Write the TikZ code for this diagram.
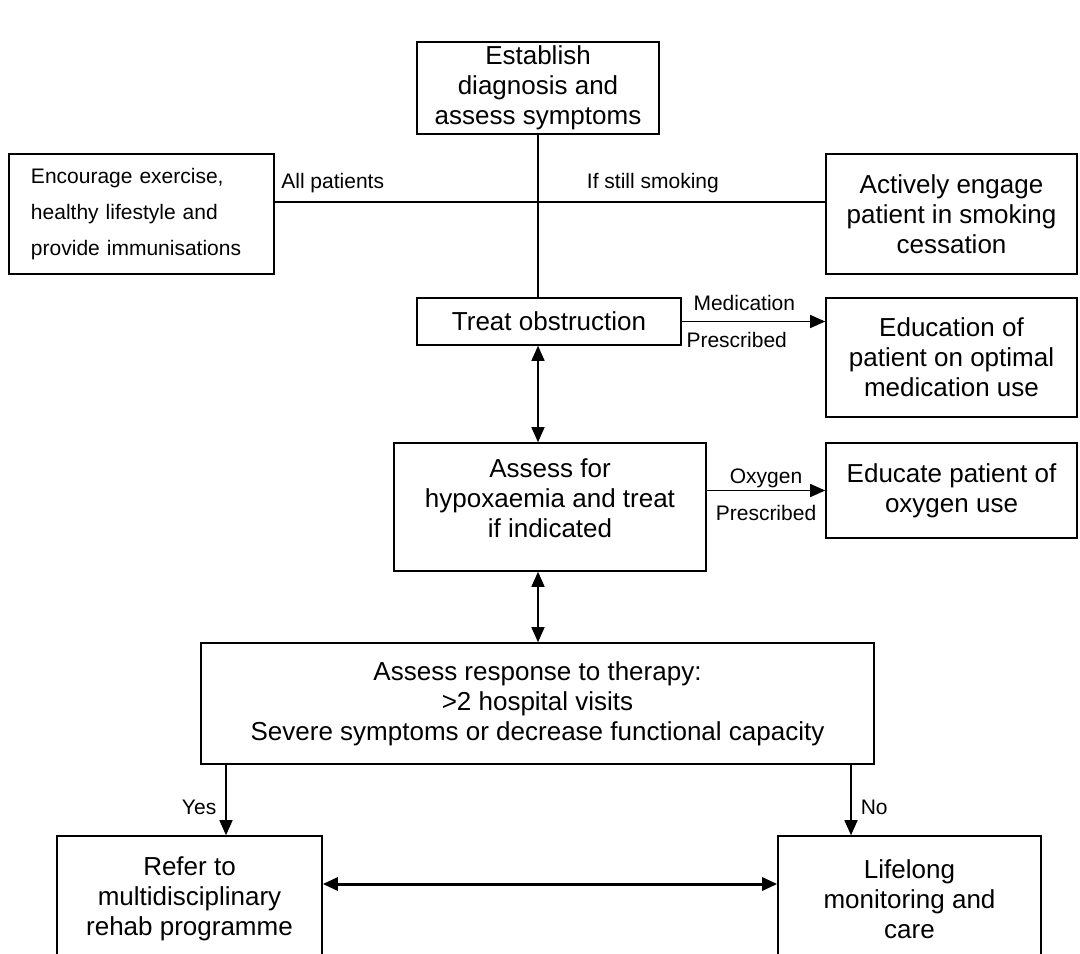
\documentclass[tikz,border=0pt]{standalone}
\usepackage{fontspec}
\setmainfont{Liberation Sans}
\usetikzlibrary{arrows.meta}
\begin{document}
\begin{tikzpicture}[x=0.5pt, y=-0.5pt,
  every node/.style = {shape=rectangle, align=center},
  box/.style = {draw, line width=0.8pt, inner sep=0pt, font=\fontsize{13}{15}\selectfont},
  smallbox/.style = {draw, line width=0.8pt, inner sep=0pt, align=left, text width=110.5pt, font=\fontsize{10.5}{18}\selectfont},
  lbl/.style = {inner sep=0pt, font=\fontsize{10.5}{12}\selectfont},
  link/.style = {line width=0.75pt},
  tip/.style = {-{Triangle[length=7.5pt,width=6.5pt]}},
  tips/.style = {{Triangle[length=7.5pt,width=6.5pt]}-{Triangle[length=7.5pt,width=6.5pt]}}]
\clip (0,0) rectangle (1080,953);
\node[box, minimum width=121pt, minimum height=46pt] (diag) at (538,88) {Establish\\diagnosis and\\assess symptoms};
\node[smallbox, minimum width=132.5pt, minimum height=60pt] (exercise) at (141.5,214) {Encourage exercise,\\healthy lifestyle and\\provide immunisations};
\node[box, minimum width=125.5pt, minimum height=60pt] (smoking) at (951.5,214) {Actively engage\\patient in smoking\\cessation};
\node[box, minimum width=132pt, minimum height=23.5pt] (treat) at (549,321.5) {Treat obstruction};
\node[box, minimum width=125.5pt, minimum height=59.5pt] (meduse) at (951.5,357.5) {Education of\\patient on optimal\\medication use};
\node[box, minimum width=156pt, minimum height=64pt] (hypox) at (550,507) {Assess for\\hypoxaemia and treat\\if indicated\\[-6pt]\mbox{}};
\node[box, minimum width=125.5pt, minimum height=47.5pt] (oxyuse) at (951.5,490.5) {Educate patient of\\oxygen use};
\node[box, minimum width=336.5pt, minimum height=60.5pt] (response) at (537.5,703.5) {Assess response to therapy:\\>2 hospital visits\\Severe symptoms or decrease functional capacity};
\node[box, minimum width=132.5pt, minimum height=63pt] (rehab) at (189.5,899) {Refer to\\multidisciplinary\\rehab programme};
\node[box, minimum width=131.5pt, minimum height=63pt] (lifelong) at (909.5,899) {Lifelong\\monitoring and\\care};
\coordinate (spine) at (538,0);
\coordinate (hub) at (538,202);
\coordinate (yes) at (226,0);
\coordinate (no) at (851,0);
\coordinate (across) at (0,884);
\draw[link] (diag.south) -- (spine |- treat.north);
\draw[link] (exercise.east |- hub) -- node[lbl, pos=0.22, anchor=base, yshift=7pt] (allpat) {All patients} (hub)
  -- node[lbl, pos=0.40, anchor=base, yshift=7pt] (stillsmoke) {If still smoking} (smoking.west |- hub);
\draw[link, tip] (treat.east) -- node[lbl, pos=0, anchor=base west, xshift=5.5pt, yshift=5.75pt] (medlbl) {Medication}
  node[lbl, pos=0, anchor=base west, xshift=2pt, yshift=-12.75pt] (medpres) {Prescribed} (meduse.west |- treat.east);
\draw[link, tip] (hypox.east |- oxyuse.west) -- node[lbl, midway, anchor=base, yshift=3.5pt] (oxylbl) {Oxygen}
  node[lbl, midway, anchor=base, yshift=-14.75pt] (oxypres) {Prescribed} (oxyuse.west);
\draw[link, tips] (spine |- treat.south) -- (spine |- hypox.north);
\draw[link, tips] (spine |- hypox.south) -- (spine |- response.north);
\draw[link, tip] (yes |- response.south) -- node[lbl, pos=0.6, anchor=east, xshift=-4.5pt] (yeslbl) {Yes} (yes |- rehab.north);
\draw[link, tip] (no |- response.south) -- node[lbl, pos=0.6, anchor=west, xshift=4.5pt] (nolbl) {No} (no |- lifelong.north);
\draw[line width=1.5pt, tips] (rehab.east |- across) -- (lifelong.west |- across);
\end{tikzpicture}
\end{document}
